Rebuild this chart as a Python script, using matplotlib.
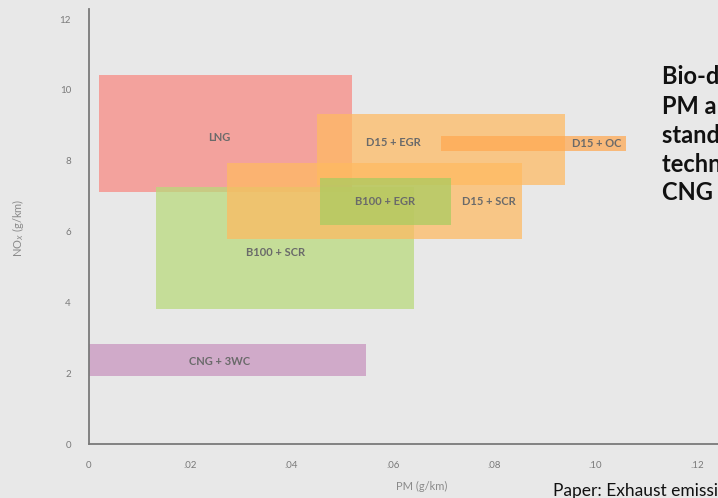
"""NOx vs PM emission ranges for bus fuel/after-treatment combinations."""
import matplotlib
matplotlib.use("Agg")
import matplotlib.pyplot as plt
from matplotlib.patches import Rectangle

plt.rcParams.update({"font.family": "Lato", "font.size": 8})

# emission ranges (g/km): PM from..to, NOx from..to
names = ["LNG", "D15 + EGR", "B100 + SCR", "D15 + SCR", "B100 + EGR", "D15 + OC", "CNG + 3WC"]
pm_lo = [0.0020, 0.0450, 0.0132, 0.0272, 0.0456, 0.0695, 0.0000]
pm_hi = [0.0519, 0.0939, 0.0641, 0.0855, 0.0714, 0.1060, 0.0547]
nox_lo = [7.12, 7.32, 3.81, 5.79, 6.19, 8.28, 1.92]
nox_hi = [10.42, 9.32, 7.26, 7.94, 7.51, 8.70, 2.82]
# where each label sits
label_pm = [0.0257, 0.0600, 0.0369, 0.0789, 0.0584, 0.1001, 0.0257]
label_nox = [8.67, 8.53, 5.40, 6.84, 6.84, 8.50, 2.34]
colors = ["#f88880", "#ffba60", "#b8da7a", "#ffba60", "#a8cc60", "#ffa850", "#c892bd"]

xticks = [0, 0.02, 0.04, 0.06, 0.08, 0.10, 0.12]
xticklabels = ["0", ".02", ".04", ".06", ".08", ".10", ".12"]
yticks = [0, 2, 4, 6, 8, 10, 12]

bg = "#e8e8e8"
fig = plt.figure(figsize=(7.18, 4.98), dpi=100, facecolor=bg)
ax = fig.add_axes([89 / 718, 1 - 444 / 498, 629 / 718, 12.3 * 35.4 / 498])
ax.set_facecolor(bg)
ax.set_xlim(0, 629 / 5067)
ax.set_ylim(0, 12.3)

for nm, x0, x1, y0, y1, lx, ly, c in zip(names, pm_lo, pm_hi, nox_lo, nox_hi,
                                           label_pm, label_nox, colors):
    ax.add_patch(Rectangle((x0, y0), x1 - x0, y1 - y0, facecolor=c,
                           edgecolor="none", alpha=0.72))
    ax.text(lx, ly, nm, ha="center", va="center", fontsize=8,
            fontweight="bold", color="#6a6a6a", zorder=5)

for s in ["top", "right"]:
    ax.spines[s].set_visible(False)
for s in ["left", "bottom"]:
    ax.spines[s].set_color("#7a7a7a")
    ax.spines[s].set_linewidth(1.3)
ax.set_xticks(xticks, xticklabels)
ax.set_yticks(yticks)
ax.tick_params(length=0, colors="#7a7a7a", labelsize=7)
ax.tick_params(axis="x", pad=12)
ax.tick_params(axis="y", pad=13)
ax.set_xlabel("PM (g/km)", color="#8a8a8a", fontsize=8)
ax.set_ylabel("NO$_x$ (g/km)", color="#8a8a8a", fontsize=8)
ax.xaxis.set_label_coords((422 - 89) / 629, -0.085)
ax.yaxis.set_label_coords(-(89 - 26) / 629, (444 - 228) / (12.3 * 35.4))

summary = ["Bio-diesel with EGR has lowest",
           "PM and NOx compared to",
           "standard diesel with",
           "technology packages;",
           "CNG lowest overall NOx"]
for i, line in enumerate(summary):
    fig.text(662 / 718, 1 - (77 + 29 * i) / 498, line, fontsize=17,
             fontweight="bold", color="#111111", va="center")

fig.text(553 / 718, 1 - 496 / 498,
         "Paper: Exhaust emissions of transit buses", fontsize=12.5,
         color="#111111", va="baseline")

fig.savefig("out.png", dpi=100, facecolor=bg)
